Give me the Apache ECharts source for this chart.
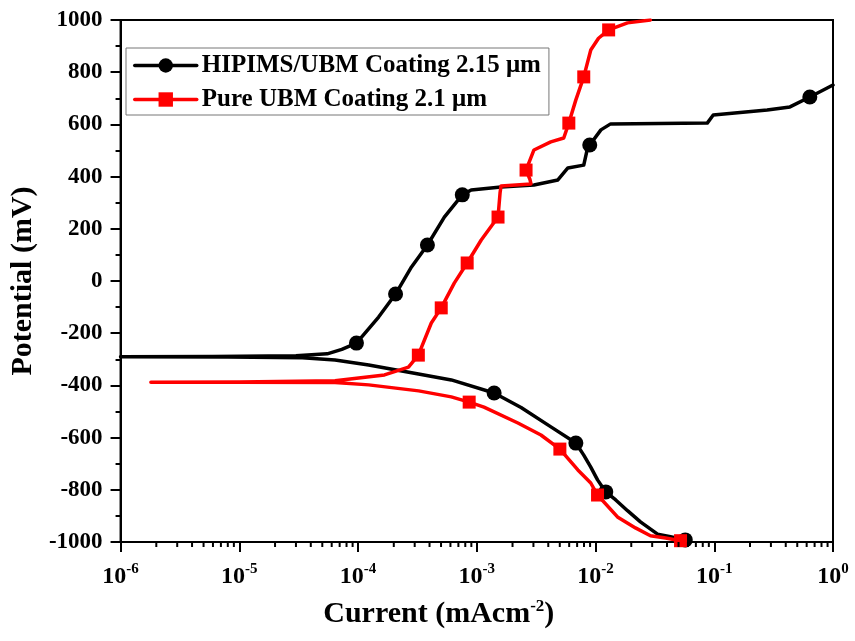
<!DOCTYPE html>
<html>
<head>
<meta charset="utf-8">
<script src="https://cdn.jsdelivr.net/npm/echarts@6/dist/echarts.min.js"></script>
<style>
  html, body { margin: 0; padding: 0; background: #fff; }
  #chart { width: 855px; height: 641px; }
</style>
</head>
<body>
<div id="chart"></div>
<script>
const seriesNames = ['HIPIMS/UBM Coating 2.15 \u03bcm', 'Pure UBM Coating 2.1 \u03bcm']

// [current mA/cm2, potential mV], ordered by potential (cathodic -> Ecorr -> anodic)
const hipimsCurve = [
  [0.057, -992], [0.0428, -980], [0.0333, -970], [0.0239, -923], [0.0186, -880],
  [0.0148, -839], [0.0122, -808], [0.0104, -762], [0.00912, -713], [0.00796, -667],
  [0.00683, -621], [0.00421, -559], [0.00236, -485], [0.0014, -429], [6.1e-4, -379],
  [3.23e-4, -356], [1.23e-4, -322], [6.4e-5, -303], [3.4e-5, -294], [8e-6, -291], [1e-6, -290],
  [6e-6, -289], [3e-5, -286], [5.5e-5, -279], [7.3e-5, -262], [9.7e-5, -238], [1.49e-4, -138],
  [2.07e-4, -50], [2.82e-4, 54], [3.84e-4, 138], [5.33e-4, 245], [7.55e-4, 330],
  [8.97e-4, 349], [1.6e-3, 360], [3.03e-3, 368], [4.82e-3, 387], [5.85e-3, 433],
  [7.96e-3, 444], [8.6e-3, 513], [8.94e-3, 521], [0.0111, 579], [0.0134, 602],
  [0.0873, 605], [0.098, 636], [0.279, 655], [0.434, 667], [0.638, 705], [1, 751]
]
const hipimsMarks = [
  [0.057, -992], [0.0122, -808], [0.00683, -621], [0.0014, -429], [9.7e-5, -238],
  [2.07e-4, -50], [3.84e-4, 138], [7.55e-4, 330], [8.94e-3, 521], [0.638, 705]
]

const ubmCurve = [
  [0.052, -995], [0.0389, -985], [0.029, -976], [0.0217, -946], [0.0153, -904],
  [0.0104, -820], [0.00912, -774], [0.0071, -724], [0.00501, -644], [3.47e-3, -590],
  [2.22e-3, -544], [1.15e-3, -483], [8.63e-4, -464], [6.1e-4, -444], [3.24e-4, -421],
  [1.23e-4, -398], [6.4e-5, -389], [1e-5, -388], [1.8e-6, -388],
  [1e-5, -387], [6.4e-5, -382], [1.67e-4, -360], [2.66e-4, -330], [3.22e-4, -284],
  [4.14e-4, -161], [5.02e-4, -103], [6.46e-4, -8], [8.3e-4, 69], [1.09e-3, 157],
  [1.51e-3, 245], [1.57e-3, 337], [1.6e-3, 364], [2.86e-3, 372], [2.8e-3, 390],
  [2.6e-3, 425], [3.03e-3, 502], [4.2e-3, 533], [5.4e-3, 548], [5.96e-3, 605],
  [6.82e-3, 693], [7.96e-3, 782], [9.12e-3, 885], [0.0106, 930], [0.0129, 962],
  [0.0186, 989], [0.029, 1000]
]
const ubmMarks = [
  [0.052, -995], [0.0104, -820], [0.00501, -644], [8.63e-4, -464], [3.22e-4, -284],
  [5.02e-4, -103], [8.3e-4, 69], [1.51e-3, 245], [2.6e-3, 425], [5.96e-3, 605],
  [7.96e-3, 782], [0.0129, 962]
]

// log minor ticks 2..9 per decade
const minorTicks = []
for (let k = -6; k < 0; k++) {
  for (let m = 2; m <= 9; m++) minorTicks.push([m * Math.pow(10, k), -1000])
}

const font = 'Liberation Serif'
const chart = echarts.init(document.getElementById('chart'))

chart.setOption({
  animation: false,
  backgroundColor: '#fff',
  grid: { left: 118, right: 22, top: 20, bottom: 99, show: true, borderColor: '#000', borderWidth: 2 },
  legend: {
    data: seriesNames,
    orient: 'vertical',
    left: 126,
    top: 48,
    padding: [5, 8, 3, 7],
    itemGap: 9,
    itemWidth: 62,
    itemHeight: 18,
    borderColor: '#777',
    borderWidth: 1,
    backgroundColor: '#fff',
    lineStyle: { width: 3.5 },
    textStyle: { fontFamily: font, fontWeight: 'bold', fontSize: 25, color: '#000', lineHeight: 24 },
  },
  xAxis: {
    type: 'log',
    logBase: 10,
    min: 1e-6,
    max: 1,
    name: 'Current (mAcm{s|-2})',
    nameLocation: 'middle',
    nameGap: 56,
    nameTextStyle: {
      fontFamily: font, fontWeight: 'bold', fontSize: 30, color: '#000',
      padding: [0, 76, 0, 0],
      rich: { s: { fontFamily: font, fontWeight: 'bold', fontSize: 17, color: '#000', padding: [0, 0, 16, 0] } },
    },
    axisLine: { onZero: false, lineStyle: { color: '#000', width: 2 } },
    axisTick: { inside: false, length: 10, lineStyle: { color: '#000', width: 2 } },
    minorTick: { show: false },
    splitLine: { show: false },
    axisLabel: {
      margin: 20,
      formatter: (v) => '{b|10}{s|' + Math.round(Math.log10(v)) + '}',
      rich: {
        b: { fontFamily: font, fontWeight: 'bold', fontSize: 24, color: '#000' },
        s: { fontFamily: font, fontWeight: 'bold', fontSize: 15, color: '#000', padding: [0, 0, 15, 0] },
      },
    },
  },
  yAxis: {
    type: 'value',
    min: -1000,
    max: 1000,
    interval: 200,
    name: 'Potential (mV)',
    nameLocation: 'middle',
    nameGap: 78,
    nameTextStyle: { fontFamily: font, fontWeight: 'bold', fontSize: 30, color: '#000' },
    axisLine: { lineStyle: { color: '#000', width: 2 } },
    axisTick: { inside: false, length: 10, lineStyle: { color: '#000', width: 2 } },
    minorTick: { show: true, splitNumber: 2, length: 5, lineStyle: { color: '#000', width: 2 } },
    splitLine: { show: false },
    axisLabel: {
      margin: 18, fontFamily: font, fontWeight: 'bold', fontSize: 23, color: '#000',
      formatter: (v) => String(v),
    },
  },
  series: [
    {
      name: seriesNames[0],
      type: 'line',
      data: hipimsCurve,
      symbol: 'circle',
      showSymbol: false,
      color: '#000',
      lineStyle: { color: '#000', width: 3.5, join: 'round', cap: 'round' },
      z: 2,
    },
    {
      name: seriesNames[1],
      type: 'line',
      data: ubmCurve,
      symbol: 'rect',
      showSymbol: false,
      color: '#ff0000',
      lineStyle: { color: '#ff0000', width: 3.5, join: 'round', cap: 'round' },
      z: 3,
    },
    {
      name: 'hipimsMarks',
      type: 'scatter',
      data: hipimsMarks,
      symbol: 'circle',
      symbolSize: 15,
      itemStyle: { color: '#000', opacity: 1 },
      z: 4,
    },
    {
      name: 'ubmMarks',
      type: 'scatter',
      data: ubmMarks,
      symbol: 'rect',
      symbolSize: 13,
      itemStyle: { color: '#ff0000', opacity: 1 },
      z: 5,
    },
    {
      name: 'minorTicks',
      type: 'custom',
      data: minorTicks,
      silent: true,
      clip: false,
      encode: { x: 0, y: 1 },
      renderItem: (params, api) => {
        const p = api.coord([api.value(0), api.value(1)])
        return {
          type: 'line',
          shape: { x1: p[0], y1: p[1], x2: p[0], y2: p[1] + 5 },
          style: { stroke: '#000', lineWidth: 2 },
        }
      },
      z: 6,
    },
  ],
})
</script>
</body>
</html>
